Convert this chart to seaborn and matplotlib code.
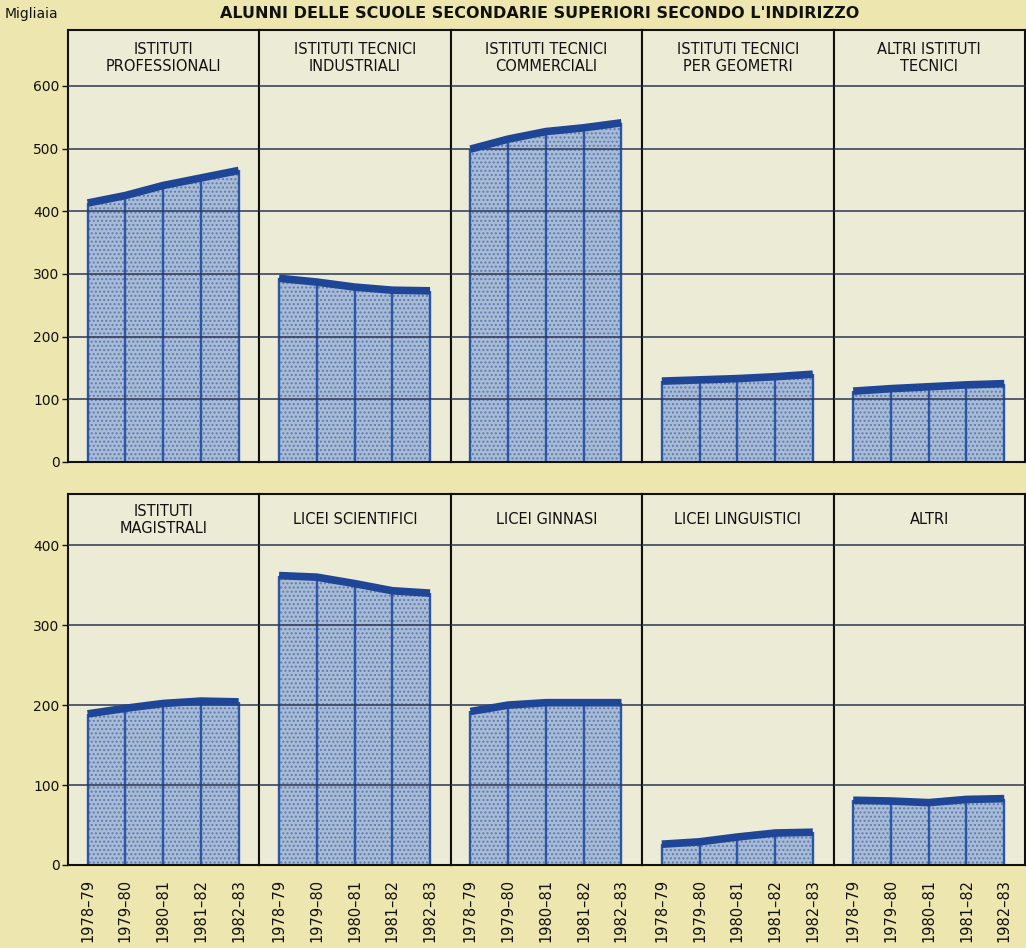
import numpy as np
import matplotlib
matplotlib.use('Agg')
import matplotlib.pyplot as plt
import seaborn as sns

# Data (migliaia di alunni)
years = ['1978–79', '1979–80', '1980–81', '1981–82', '1982–83']

top_titles = ['ISTITUTI\nPROFESSIONALI', 'ISTITUTI TECNICI\nINDUSTRIALI',
              'ISTITUTI TECNICI\nCOMMERCIALI', 'ISTITUTI TECNICI\nPER GEOMETRI',
              'ALTRI ISTITUTI\nTECNICI']
professionali = [413, 425, 441, 453, 465]
industriali = [293, 287, 279, 274, 273]
commerciali = [499, 515, 527, 533, 541]
geometri = [129, 131, 133, 136, 140]
altri_tecnici = [113, 117, 120, 123, 125]

bottom_titles = ['ISTITUTI\nMAGISTRALI', 'LICEI SCIENTIFICI', 'LICEI GINNASI',
                 'LICEI LINGUISTICI', 'ALTRI']
magistrali = [189, 196, 202, 205, 204]
scientifici = [362, 360, 352, 343, 340]
ginnasi = [192, 200, 203, 203, 203]
linguistici = [26, 29, 35, 40, 41]
altri = [81, 80, 78, 82, 83]

top_ticks = [0, 100, 200, 300, 400, 500, 600]
bottom_ticks = [0, 100, 200, 300, 400]

# colours
paper = '#ede6ae'
panel = '#ecebd6'
fill_c = '#a9bcd6'
dot_c = '#5f7cb2'
vline_c = '#2b55a6'
grid_c = '#2d3656'
line_c = '#1f4696'

sns.set_theme(style='white')
plt.rcParams['font.family'] = ['DejaVu Sans']
plt.rcParams['hatch.linewidth'] = 1.0

fig = plt.figure(figsize=(10.26, 9.48), dpi=100, facecolor=paper)
W, H = 1026, 948
gs_top = fig.add_gridspec(1, 5, left=68 / W, right=1025 / W,
                          bottom=1 - 462 / H, top=1 - 30 / H, wspace=0)
gs_bot = fig.add_gridspec(1, 5, left=68 / W, right=1025 / W,
                          bottom=1 - 865 / H, top=1 - 494 / H, wspace=0)


def draw_panel(ax, vals, title, ymax, ticks, header_y, first, show_years):
    x = np.arange(len(years))
    ax.set_facecolor(panel)
    ax.fill_between(x, 0, vals, facecolor=fill_c, edgecolor=dot_c,
                    hatch='....', linewidth=0, zorder=1)
    ax.vlines(x, 0, vals, color=vline_c, lw=1.7, zorder=2)
    for g in ticks[1:]:
        ax.axhline(g, color=grid_c, lw=1.1, zorder=3)
    sns.lineplot(x=x, y=vals, ax=ax, color=line_c, linewidth=5.5, zorder=4,
                 solid_capstyle='butt')
    ax.set_xlim(-0.52, 4.55)
    ax.set_ylim(0, ymax)
    ax.text(0.5, header_y, title, transform=ax.transAxes, ha='center',
            va='center', fontsize=10.5, linespacing=1.15, color='#111111')
    for s in ax.spines.values():
        s.set_color('#111111')
        s.set_linewidth(1.5)
    if first:
        ax.set_yticks(ticks)
        ax.tick_params(axis='y', left=True, length=4, width=1, pad=2,
                       labelsize=10, colors='#111111')
    else:
        ax.set_yticks([])
    if show_years:
        ax.set_xticks(x)
        ax.set_xticklabels(years, rotation=90, fontsize=10.5, color='#111111')
        ax.tick_params(axis='x', bottom=False, pad=4)
    else:
        ax.set_xticks([])


top_data = [professionali, industriali, commerciali, geometri, altri_tecnici]
for i in range(5):
    ax = fig.add_subplot(gs_top[0, i])
    draw_panel(ax, top_data[i], top_titles[i], 689, top_ticks, 0.935,
               i == 0, False)

bottom_data = [magistrali, scientifici, ginnasi, linguistici, altri]
for i in range(5):
    ax = fig.add_subplot(gs_bot[0, i])
    draw_panel(ax, bottom_data[i], bottom_titles[i], 464, bottom_ticks, 0.93,
               i == 0, True)

fig.text(5 / W, 1 - 14 / H, 'Migliaia', fontsize=10, va='center', ha='left',
         color='#111111')
fig.text(540 / W, 1 - 13 / H,
         "ALUNNI DELLE SCUOLE SECONDARIE SUPERIORI SECONDO L'INDIRIZZO",
         fontsize=11.5, fontweight='bold', va='center', ha='center',
         color='#111111')

fig.savefig('out.png', dpi=100, facecolor=paper)
